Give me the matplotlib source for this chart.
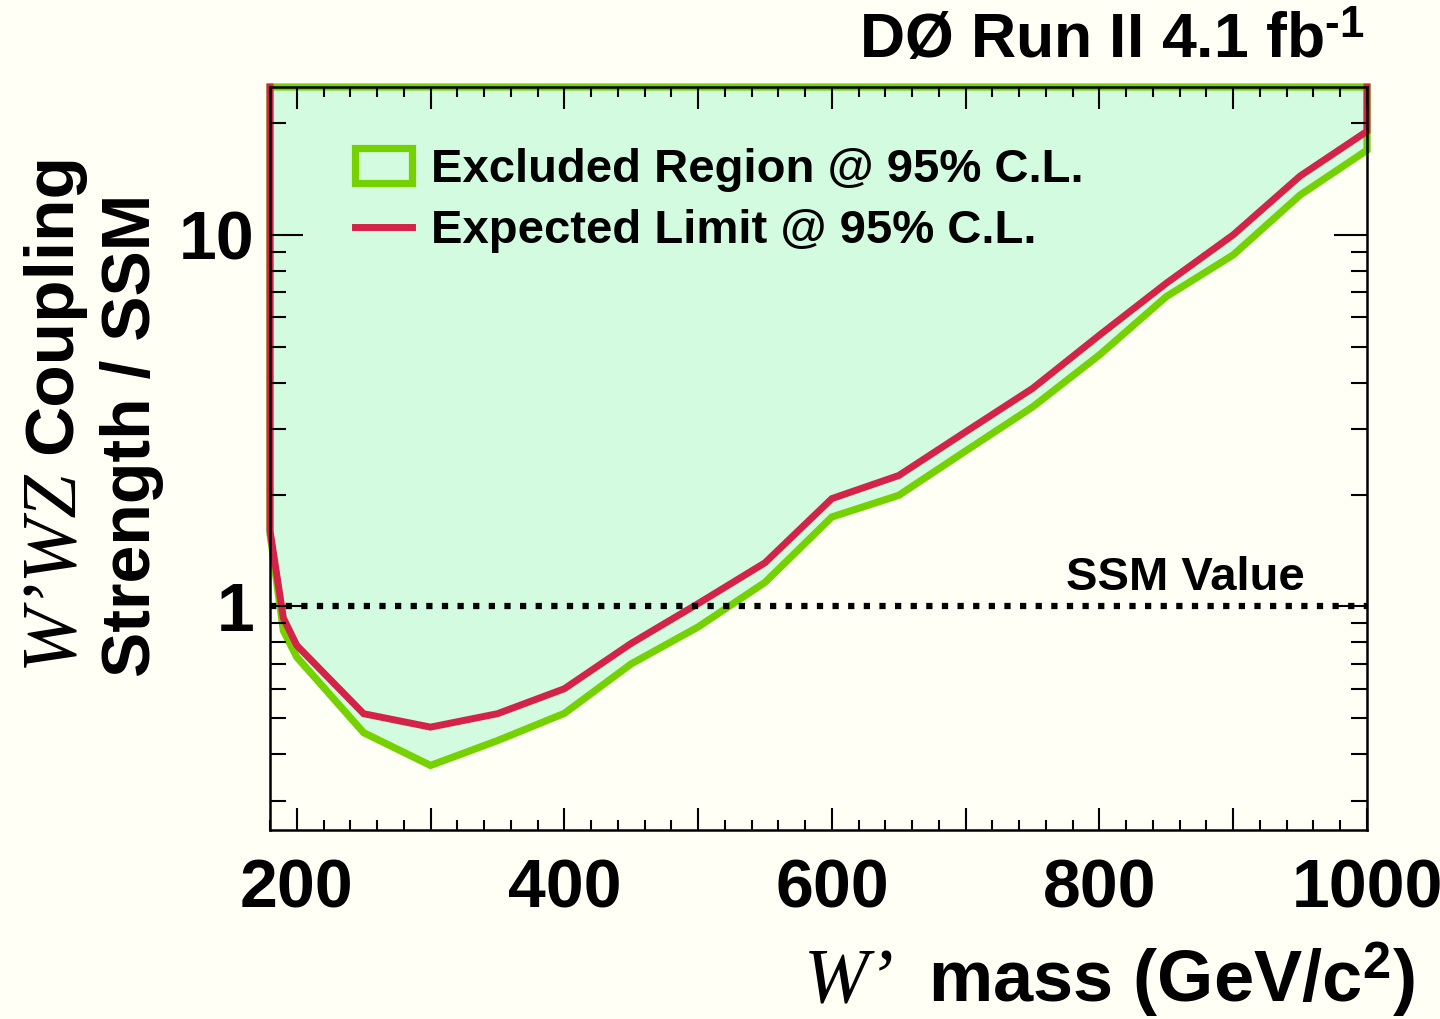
import matplotlib
matplotlib.use("Agg")
import matplotlib.pyplot as plt
from matplotlib.ticker import MultipleLocator, FixedLocator, FuncFormatter, NullFormatter
from matplotlib.patches import Patch
from matplotlib.lines import Line2D

# ---------------- data ----------------
obs_mass = [180, 190, 200, 250, 300, 350, 400, 450, 500, 550, 600, 650, 700, 750, 800, 850, 900, 950, 1000]
obs_limit = [1.57, 0.86, 0.73, 0.457, 0.373, 0.435, 0.515, 0.70, 0.88, 1.16, 1.74, 1.99, 2.62, 3.44, 4.75, 6.82, 8.83, 12.8, 16.9]

exp_mass = [180, 180, 190, 200, 250, 300, 350, 400, 450, 500, 550, 600, 650, 700, 750, 800, 850, 900, 950, 1000, 1000]
exp_limit = [25, 1.60, 0.93, 0.785, 0.514, 0.473, 0.514, 0.600, 0.795, 1.017, 1.31, 1.95, 2.25, 2.95, 3.86, 5.37, 7.41, 10.0, 14.4, 19.0, 25]

ssm_value = 1.0
x_range = [180, 1000]
y_range = [0.25, 25]
x_tick_labels = [200, 400, 600, 800, 1000]
y_tick_labels = [1, 10]

# ---------------- style ----------------
BG = "#FFFFF5"
FILL = "#D3FBE0"
GREEN = "#76D100"
RED = "#D42348"

plt.rcParams["font.family"] = ["Liberation Sans", "DejaVu Sans"]
plt.rcParams["font.weight"] = "bold"
plt.rcParams["mathtext.fontset"] = "custom"
plt.rcParams["mathtext.rm"] = "Liberation Sans:bold"
plt.rcParams["mathtext.bf"] = "Liberation Sans:bold"
plt.rcParams["mathtext.it"] = "Liberation Serif:italic"
plt.rcParams["mathtext.sf"] = "Liberation Sans:bold"

fig = plt.figure(figsize=(14.4, 10.19), dpi=100, facecolor=BG)
W, H = 1440, 1019
L, R, T, B = 270, 1367, 87, 830
ax = fig.add_axes([L / W, 1 - B / H, (R - L) / W, (B - T) / H])
ax.set_facecolor(BG)
ax.set_axisbelow(False)
ax.set_yscale("log")
ax.set_xlim(*x_range)
ax.set_ylim(*y_range)

# excluded region polygon (observed limit up to top of plot)
poly_x = obs_mass + [x_range[1], x_range[0]]
poly_y = obs_limit + [y_range[1], y_range[1]]
ax.fill(poly_x, poly_y, facecolor=FILL, edgecolor=GREEN, lw=5.2,
        joinstyle="miter", clip_on=False, zorder=1)

# expected limit
ax.plot(exp_mass, exp_limit, color=RED, lw=5.0, clip_on=False, zorder=1.5,
        solid_joinstyle="miter")

# SSM line
ax.plot(x_range, [ssm_value, ssm_value], color="black", lw=4.5,
        dashes=(1, 1.5), dash_capstyle="butt", zorder=4)

fig.text(1305 / W, 1 - 590 / H, "SSM Value", fontsize=34, fontweight="bold",
         ha="right", va="baseline")

# ticks
ax.xaxis.set_major_locator(MultipleLocator(100))
ax.xaxis.set_minor_locator(MultipleLocator(20))
ax.xaxis.set_major_formatter(FuncFormatter(
    lambda v, p: f"{int(round(v))}" if int(round(v)) in x_tick_labels else ""))
ax.yaxis.set_major_locator(FixedLocator(y_tick_labels))
ax.yaxis.set_minor_locator(FixedLocator(
    [m * d for d in (0.1, 1, 10) for m in range(2, 10) if y_range[0] <= m * d <= y_range[1]]))
ax.yaxis.set_major_formatter(FuncFormatter(lambda v, p: f"{v:g}"))
ax.yaxis.set_minor_formatter(NullFormatter())

ax.tick_params(axis="x", which="major", direction="in", length=15.8, width=1.5,
               top=True, bottom=True, labelsize=49, pad=20)
ax.tick_params(axis="x", which="minor", direction="in", length=7.2, width=1.5,
               top=True, bottom=True)
ax.tick_params(axis="y", which="major", direction="in", length=23.8, width=1.5,
               left=True, right=True, labelsize=49, pad=11)
ax.tick_params(axis="y", which="minor", direction="in", length=11.5, width=1.5,
               left=True, right=True)
for lab in ax.get_xticklabels() + ax.get_yticklabels():
    lab.set_fontweight("bold")
for s in ax.spines.values():
    s.set_linewidth(1.8)
    s.set_zorder(5)

# legend
handles = [Patch(facecolor=FILL, edgecolor=GREEN, lw=5.2),
           Line2D([0], [0], color=RED, lw=5.0)]
labels = ["Excluded Region @ 95% C.L.", "Expected Limit @ 95% C.L."]
leg = ax.legend(handles, labels, loc="upper left",
                bbox_to_anchor=(355 / W, 1 - 148 / H), bbox_transform=fig.transFigure,
                frameon=False, handlelength=1.2, handleheight=0.75,
                handletextpad=0.4, labelspacing=0.37, borderpad=0, borderaxespad=0,
                prop={"weight": "bold", "size": 34})

# titles
fig.text(1365 / W, 1 - 58 / H, r"DØ Run II 4.1 fb$^{\text{-1}}$", fontsize=45,
         fontweight="bold", ha="right", va="baseline")

# axis labels built from pieces (italic serif symbols + bold sans words)
SERIF = dict(family="Liberation Serif", style="italic", weight="normal")
SANS = dict(family="Liberation Sans", weight="bold")
renderer = fig.canvas.get_renderer()


def ink_width(s, size, props):
    t = fig.text(0, 0, s, fontsize=size, **props)
    w = t.get_window_extent(renderer).width
    t.remove()
    return w


# x label: right end at x=1415 px, baseline at y=1002 px
x_pieces = [("W’", 56, SERIF, 34), ("mass (GeV/c$^{2}$)", 52, SANS, 0)]
total = sum(ink_width(s, sz, p) + g for s, sz, p, g in x_pieces)
xpos = 1415 - total
for s, sz, p, g in x_pieces:
    fig.text(xpos / W, 1 - 1002 / H, s, fontsize=sz, ha="left", va="baseline", **p)
    xpos += ink_width(s, sz, p) + g

# y label line 1: starts at y=667 px going upward, baseline at x=71 px
ypos = 667
for s, sz, p, g in [("W’WZ", 56, SERIF, 14), ("Coupling", 50, SANS, 0)]:
    fig.text(71 / W, 1 - ypos / H, s, fontsize=sz, rotation=90, rotation_mode="anchor",
             ha="left", va="baseline", **p)
    ypos -= ink_width(s, sz, p) + g

# y label line 2
fig.text(150 / W, 1 - 677 / H, "Strength / SSM", fontsize=49, rotation=90,
         rotation_mode="anchor", ha="left", va="baseline", **SANS)

fig.savefig("out.png", dpi=100, facecolor=BG)
